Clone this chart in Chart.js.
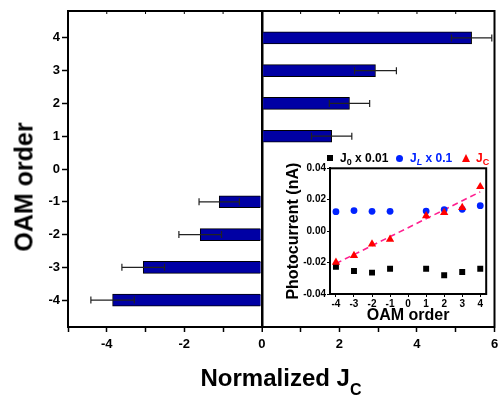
<!DOCTYPE html>
<html>
<head>
<meta charset="utf-8">
<script src="https://cdn.jsdelivr.net/npm/chart.js@4.4.1/dist/chart.umd.min.js"></script>
<style>
  body { margin: 0; background: #fff; }
  #wrap { position: relative; width: 498px; height: 399px; font-family: "Liberation Sans", Arial, sans-serif; }
  #main { position: absolute; left: 0; top: 0; }
  #inset { position: absolute; left: 272px; top: 146px; }
  .txt { position: absolute; font-weight: bold; white-space: nowrap; }
  .sb { position: relative; }
  .mk { position: absolute; }
</style>
</head>
<body>
<div id="wrap">
  <canvas id="main" width="498" height="399"></canvas>
  <canvas id="inset" width="219" height="179"></canvas>
  <div class="txt" id="ytitle" style="left:24px; top:186.5px; font-size:25px; line-height:25px; transform:translate(-50%,-50%) rotate(-90deg);">OAM order</div>
  <div class="txt" id="xtitle" style="left:281px; top:366.4px; font-size:24px; line-height:24px; transform:translateX(-50%);">Normalized J<span class="sb" style="font-size:16px; top:9px;">C</span></div>
  <div class="mk" style="left:327px; top:155px; width:6px; height:6px; background:#000;"></div>
  <div class="txt" style="left:340px; top:152px; font-size:12px; line-height:12px; color:#000;">J<span class="sb" style="font-size:9px; top:3px;">0</span> x 0.01</div>
  <div class="mk" style="left:396px; top:155px; width:7px; height:7px; border-radius:50%; background:#0022ff;"></div>
  <div class="txt" style="left:410px; top:152px; font-size:12px; line-height:12px; color:#0022ff;">J<span class="sb" style="font-size:9px; top:3px; font-style:italic;">L</span> x 0.1</div>
  <div class="mk" style="left:461.5px; top:154px; width:0; height:0; border-left:4.5px solid transparent; border-right:4.5px solid transparent; border-bottom:8px solid #ff0000;"></div>
  <div class="txt" style="left:476px; top:152px; font-size:12px; line-height:12px; color:#ff0000;">J<span class="sb" style="font-size:9px; top:3px;">C</span></div>
</div>
<script>
// main bar chart: normalized Jc vs OAM order
const orders = [4, 3, 2, 1, -1, -2, -3, -4];
const jcNorm = [5.41, 2.93, 2.26, 1.80, -1.10, -1.59, -3.06, -3.85];
const jcErr = [0.52, 0.54, 0.52, 0.52, 0.52, 0.55, 0.55, 0.56];
const yTicks = [-4, -3, -2, -1, 0, 1, 2, 3, 4];

// inset: photocurrents
const insetOrders = [-4, -3, -2, -1, 1, 2, 3, 4];
const j0 = [-0.0226, -0.0254, -0.0264, -0.0239, -0.0239, -0.0281, -0.0260, -0.0239];
const jL = [0.0124, 0.0131, 0.0126, 0.0126, 0.0128, 0.0137, 0.0139, 0.0162];
const jC = [-0.0199, -0.0156, -0.0082, -0.0052, 0.0097, 0.0118, 0.0150, 0.0283];
const fitX = [-4, 4];
const fitY = [-0.0206, 0.0250];
const insetXTicks = [-4, -3, -2, -1, 0, 1, 2, 3, 4];

const boldFont = size => ({ family: "'Liberation Sans', Arial, sans-serif", size: size, weight: 'bold' });

const framePlugin = {
  id: 'frame',
  afterDraw(chart, args, opts) {
    const a = chart.chartArea;
    const ctx = chart.ctx;
    ctx.save();
    ctx.strokeStyle = '#000';
    ctx.lineWidth = opts.width || 2;
    ctx.strokeRect(a.left, a.top, a.right - a.left, a.bottom - a.top);
    if (opts.topTicks) {
      ctx.lineWidth = 1;
      chart.scales.x.ticks.forEach(t => {
        const x = chart.scales.x.getPixelForValue(t.value);
        ctx.beginPath();
        ctx.moveTo(x, a.top);
        ctx.lineTo(x, a.top + 3);
        ctx.stroke();
      });
    }
    ctx.restore();
  }
};

const errorBars = {
  id: 'errorBars',
  afterDatasetsDraw(chart) {
    const ctx = chart.ctx;
    const xs = chart.scales.x, ys = chart.scales.y;
    ctx.save();
    ctx.strokeStyle = '#222';
    ctx.lineWidth = 1.2;
    orders.forEach((o, i) => {
      const y = ys.getPixelForValue(o);
      const x1 = xs.getPixelForValue(jcNorm[i] - jcErr[i]);
      const x2 = xs.getPixelForValue(jcNorm[i] + jcErr[i]);
      ctx.beginPath();
      ctx.moveTo(x1, y); ctx.lineTo(x2, y);
      ctx.moveTo(x1, y - 3.5); ctx.lineTo(x1, y + 3.5);
      ctx.moveTo(x2, y - 3.5); ctx.lineTo(x2, y + 3.5);
      ctx.stroke();
    });
    ctx.restore();
  }
};

new Chart(document.getElementById('main'), {
  type: 'bar',
  data: {
    datasets: [{
      data: orders.map((o, i) => ({ x: jcNorm[i], y: o })),
      backgroundColor: '#0000a4',
      borderColor: '#000',
      borderWidth: 1,
      barThickness: 12
    }]
  },
  options: {
    indexAxis: 'y',
    responsive: false,
    animation: false,
    layout: { padding: { top: 11, right: 3.5, left: 0, bottom: 0 } },
    plugins: { legend: { display: false }, tooltip: { enabled: false }, frame: { width: 2, topTicks: true } },
    scales: {
      x: {
        type: 'linear',
        min: -5, max: 6,
        ticks: {
          stepSize: 1, autoSkip: false, maxRotation: 0, padding: 5,
          color: '#000', font: boldFont(13),
          callback: v => (v % 2 === 0 ? String(v) : '')
        },
        grid: {
          drawOnChartArea: true,
          color: c => (c.tick && c.tick.value === 0 ? '#000' : 'rgba(0,0,0,0)'),
          lineWidth: c => (c.tick && c.tick.value === 0 ? 2.5 : 1),
          tickColor: '#000', tickWidth: 1.5, tickLength: 5
        },
        border: { display: true, color: '#000', width: 2 },
        afterFit: s => { s.height = 72; s.paddingLeft = 0; s.paddingRight = 0; }
      },
      y: {
        type: 'linear',
        offset: false,
        min: -4.82, max: 4.82,
        afterBuildTicks: s => { s.ticks = yTicks.map(v => ({ value: v })); },
        ticks: { color: '#000', font: boldFont(13), padding: 2, callback: v => String(v) },
        grid: { offset: false, drawOnChartArea: false, tickColor: '#000', tickWidth: 1.5, tickLength: 6 },
        border: { display: true, color: '#000', width: 2 },
        afterFit: s => { s.width = 68; s.paddingTop = 0; s.paddingBottom = 0; }
      }
    }
  },
  plugins: [errorBars, framePlugin]
});

const whiteBg = {
  id: 'whiteBg',
  beforeDraw(chart) {
    const ctx = chart.ctx;
    ctx.save();
    ctx.fillStyle = '#fff';
    ctx.fillRect(0, 0, chart.width, chart.height);
    ctx.restore();
  }
};

new Chart(document.getElementById('inset'), {
  type: 'scatter',
  data: {
    datasets: [
      {
        type: 'line',
        data: fitX.map((x, i) => ({ x: x, y: fitY[i] })),
        borderColor: '#ff2090', borderWidth: 1.6, borderDash: [6, 4],
        pointRadius: 0, fill: false, order: 4
      },
      {
        data: insetOrders.map((x, i) => ({ x: x, y: j0[i] })),
        pointStyle: 'rect', pointRadius: 4.2,
        backgroundColor: '#000', borderColor: '#000', borderWidth: 0, order: 3
      },
      {
        data: insetOrders.map((x, i) => ({ x: x, y: jL[i] })),
        pointStyle: 'circle', pointRadius: 3.4,
        backgroundColor: '#0022ff', borderColor: '#0022ff', borderWidth: 0, order: 2
      },
      {
        data: insetOrders.map((x, i) => ({ x: x, y: jC[i] })),
        pointStyle: 'triangle', pointRadius: 4.8,
        backgroundColor: '#ff0000', borderColor: '#ff0000', borderWidth: 0, order: 1
      }
    ]
  },
  options: {
    responsive: false,
    animation: false,
    layout: { padding: { top: 22.3, right: 2.7, left: 0, bottom: 0 } },
    plugins: { legend: { display: false }, tooltip: { enabled: false }, frame: { width: 2 } },
    scales: {
      x: {
        type: 'linear',
        min: -4.33, max: 4.33,
        afterBuildTicks: s => { s.ticks = insetXTicks.map(v => ({ value: v })); },
        ticks: { color: '#000', font: boldFont(10), padding: 1, maxRotation: 0, autoSkip: false, callback: v => String(v) },
        grid: { drawOnChartArea: false, tickColor: '#000', tickWidth: 1, tickLength: 3 },
        border: { display: true, color: '#000', width: 2 },
        title: { display: true, text: 'OAM order', color: '#000', font: boldFont(16), padding: { top: 0, bottom: 0 } },
        afterFit: s => { s.height = 31; s.paddingLeft = 0; s.paddingRight = 0; }
      },
      y: {
        type: 'linear',
        min: -0.04, max: 0.04,
        ticks: { stepSize: 0.02, color: '#000', font: boldFont(10), padding: 1, callback: v => v.toFixed(2) },
        grid: { drawOnChartArea: false, tickColor: '#000', tickWidth: 1, tickLength: 3 },
        border: { display: true, color: '#000', width: 2 },
        title: { display: true, text: 'Photocurrent (nA)', color: '#000', font: boldFont(16), padding: { top: 12, bottom: 0 } },
        afterFit: s => { s.width = 58; s.paddingTop = 0; s.paddingBottom = 0; }
      }
    }
  },
  plugins: [whiteBg, framePlugin]
});
</script>
</body>
</html>
